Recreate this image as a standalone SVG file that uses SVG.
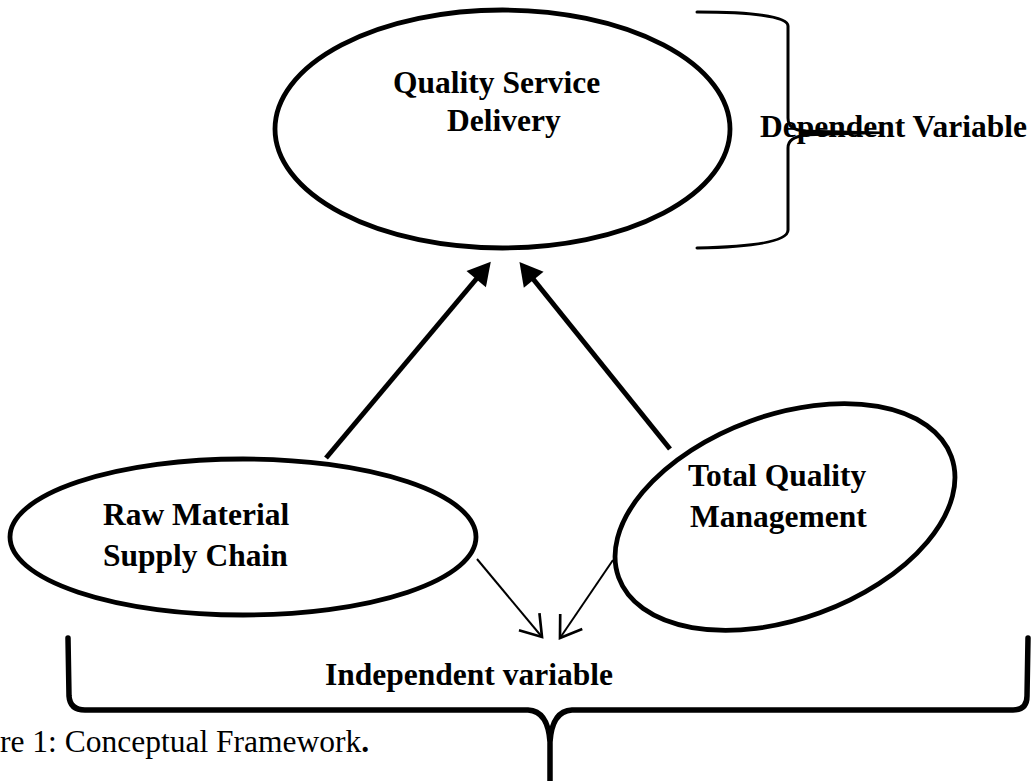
<svg xmlns="http://www.w3.org/2000/svg" width="1034" height="781" viewBox="0 0 1034 781">
  <style>
    .node { fill: #ffffff; stroke: #000000; stroke-width: 4.8; }
    .label { font-family: "Liberation Serif", "Times New Roman", serif; font-size: 31.5px; font-weight: bold; fill: #000000; }
    .caption { font-family: "Liberation Serif", "Times New Roman", serif; font-size: 31.5px; fill: #000000; }
    .thick { stroke: #000000; stroke-width: 5; fill: none; }
    .thin { stroke: #000000; stroke-width: 2; fill: none; }
    .brace { stroke: #000000; fill: none; stroke-linejoin: round; stroke-linecap: round; }
  </style>
  <defs>
    <marker id="headSolid" markerUnits="userSpaceOnUse" markerWidth="40" markerHeight="40" viewBox="-10 -15 30 30" refX="0" refY="0" orient="auto">
      <path d="M12,0 L-5,-9.5 L-5,9.5 Z" fill="#000000"/>
    </marker>
    <marker id="headOpen" markerUnits="userSpaceOnUse" markerWidth="40" markerHeight="40" viewBox="-20 -15 30 30" refX="0" refY="0" orient="auto">
      <path d="M-15,-10 L0,0 L-15,10" fill="none" stroke="#000000" stroke-width="2"/>
    </marker>
  </defs>

  <!-- dependent variable -->
  <g id="quality-service-delivery">
    <ellipse class="node" cx="502.5" cy="129" rx="227.5" ry="119"/>
    <text class="label" x="393" y="93">Quality Service</text>
    <text class="label" x="447" y="131">Delivery</text>
  </g>

  <!-- independent variables -->
  <g id="raw-material-supply-chain">
    <ellipse class="node" cx="243" cy="537" rx="233" ry="78"/>
    <text class="label" x="103" y="525">Raw Material</text>
    <text class="label" x="103" y="566">Supply Chain</text>
  </g>

  <g id="total-quality-management">
    <ellipse class="node" cx="785" cy="517" rx="177" ry="102" transform="rotate(-20 785 517)"/>
    <text class="label" x="688" y="486">Total Quality</text>
    <text class="label" x="690" y="527">Management</text>
  </g>

  <!-- brace labels -->
  <g id="dependent-variable">
    <text class="label" x="760" y="137">Dependent Variable</text>
    <path class="brace" stroke-width="3" d="M697,12 C750,12 788,16 788,26 L788,118 C788,127 794,130 805,131 M805,135 C794,137 788,140 788,148 L788,230 C788,242 750,247 697,248"/>
    <path d="M800,129.5 L880,131.5 L880,134 L800,136.5 Z" fill="#000000"/>
  </g>

  <g id="independent-variable">
    <text class="label" x="325" y="685">Independent variable</text>
    <path class="brace" stroke-width="5.5" d="M68,638 L69,696 Q70,710 85,710 L528,710 Q548,711 550,742 L550,781 M550,742 Q552,711 572,710 L1013,710 Q1027,710 1027,696 L1028,638"/>
  </g>

  <!-- connectors -->
  <g id="connectors">
    <line class="thick" x1="326" y1="458" x2="480.5" y2="274" marker-end="url(#headSolid)"/>
    <line class="thick" x1="670" y1="449" x2="529.5" y2="274.5" marker-end="url(#headSolid)"/>
    <line class="thin" x1="477" y1="559" x2="542" y2="637" marker-end="url(#headOpen)"/>
    <line class="thin" x1="613" y1="560" x2="560" y2="638" marker-end="url(#headOpen)"/>
  </g>

  <text class="caption" x="0" y="752">re 1: Conceptual Framework<tspan font-weight="bold">.</tspan></text>
</svg>
